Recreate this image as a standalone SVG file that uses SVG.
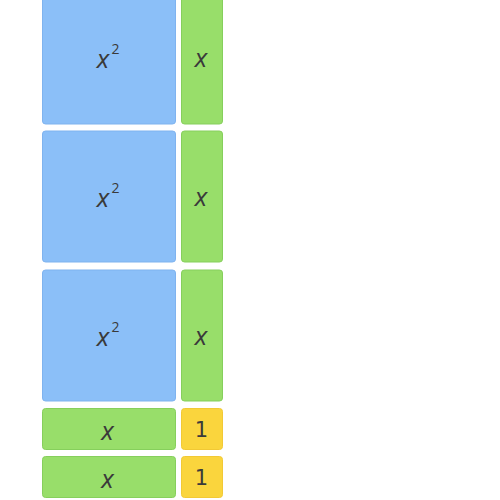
<svg xmlns="http://www.w3.org/2000/svg" width="500" height="500" viewBox="0 0 500 500">
<style>
.sq{fill:#8bbff8;stroke:#7fb3ef;stroke-width:1}
.ln{fill:#98de6a;stroke:#86cf5c;stroke-width:1}
.un{fill:#fad53d;stroke:#f2c935;stroke-width:1}
.t{font-family:"Open Sans","DejaVu Sans",sans-serif;fill:#3a3a3a;text-anchor:middle}
.i{font-style:italic;font-size:26px}
.s{font-size:14px}
.d{font-family:"DejaVu Sans",sans-serif;font-size:21px}
</style>
<rect width="500" height="500" fill="#fff"/>
<g id="sq1"><rect class="sq" x="42.5" y="-8" width="133" height="132" rx="3"/><text class="t i" x="103" y="68">x</text><text class="t s" x="115.5" y="54">2</text></g>
<g id="ln1"><rect class="ln" x="181.5" y="-8" width="41" height="132" rx="3"/><text class="t i" x="201" y="67">x</text></g>
<g id="sq2"><rect class="sq" x="42.5" y="131" width="133" height="131" rx="3"/><text class="t i" x="103" y="207">x</text><text class="t s" x="115.5" y="193">2</text></g>
<g id="ln2"><rect class="ln" x="181.5" y="131" width="41" height="131" rx="3"/><text class="t i" x="201" y="206">x</text></g>
<g id="sq3"><rect class="sq" x="42.5" y="270" width="133" height="131" rx="3"/><text class="t i" x="103" y="346">x</text><text class="t s" x="115.5" y="332">2</text></g>
<g id="ln3"><rect class="ln" x="181.5" y="270" width="41" height="131" rx="3"/><text class="t i" x="201" y="345">x</text></g>
<g id="ln4"><rect class="ln" x="42.5" y="408.5" width="133" height="41" rx="3"/><text class="t i" x="107.5" y="440">x</text></g>
<g id="un1"><rect class="un" x="181.5" y="408.5" width="41" height="41" rx="3"/><text class="t d" x="201.5" y="437">1</text></g>
<g id="ln5"><rect class="ln" x="42.5" y="456.5" width="133" height="41" rx="3"/><text class="t i" x="107.5" y="488">x</text></g>
<g id="un2"><rect class="un" x="181.5" y="456.5" width="41" height="41" rx="3"/><text class="t d" x="201.5" y="485">1</text></g>
<g id="connectors"/>
</svg>
